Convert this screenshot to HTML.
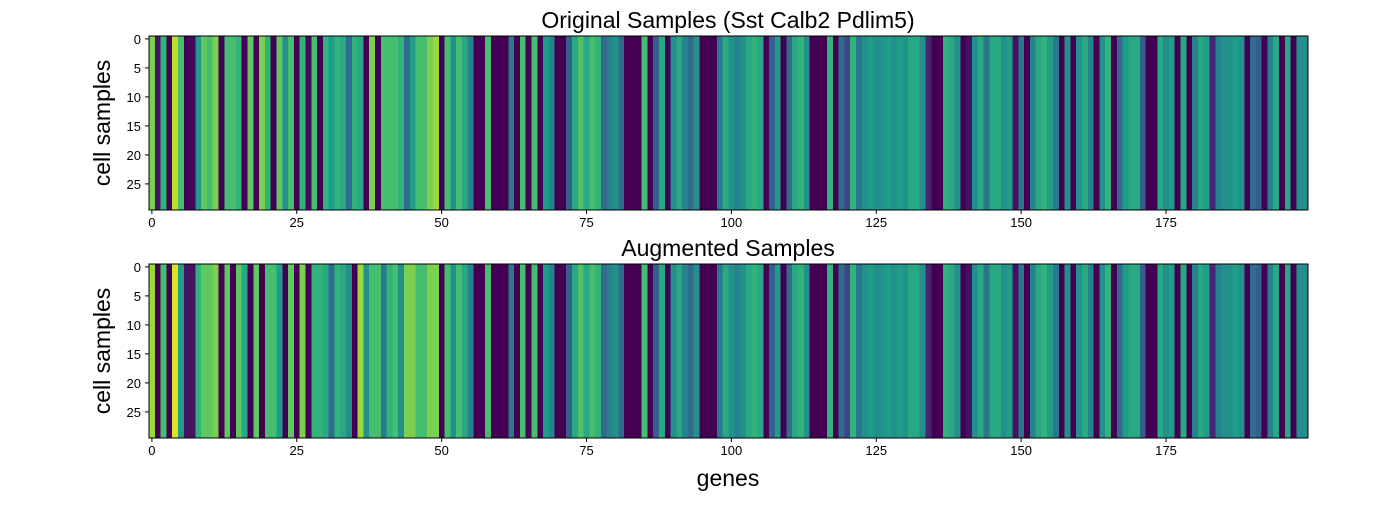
<!DOCTYPE html>
<html><head><meta charset="utf-8"><style>
body{margin:0;background:#fff;}
svg text{font-family:"Liberation Sans",sans-serif;fill:#000;}
</style></head><body>
<svg id="chart" width="1400" height="500" xmlns="http://www.w3.org/2000/svg"></svg>
<script>
const nRows = 30;
const genes = Array.from({length:200},(_, i)=>i);
const xTickLabels = [0,25,50,75,100,125,150,175];
const yTickLabels = [0,5,10,15,20,25];
const originalMeans = [
0.8,0.05,0.65,0,0.9,0.7,0,0.02,0.55,0.75, 0.7,0.8,0,0.7,0.7,0.65,0,0.75,0,0.8,
0.65,0,0.75,0.5,0.7,0,0.65,0.02,0.7,0, 0.65,0.55,0.65,0.6,0.35,0.65,0.6,0,0.8,0,
0.7,0.7,0.7,0.65,0.35,0.55,0.7,0.7,0.8,0.85,
0,0.7,0.5,0.7,0.6,0.45,0,0,0.7,0, 0,0,0.4,0,0.7,0,0.7,0,0.55,0.45,
0,0,0.3,0.6,0.72,0.6,0.7,0.65,0.35,0.45, 0.5,0.35,0,0,0,0.7,0,0.3,0.6,0,
0.5,0.6,0.45,0.35,0.5,0,0,0,0.4,0.6,
0.5,0.45,0.5,0.6,0.65,0.6,0,0.3,0.55,0, 0.35,0.6,0.65,0.5,0,0,0,0.65,0,0.35,
0.2,0.65,0.4,0.5,0.55,0.5,0.52,0.55,0.5,0.55, 0.52,0.6,0.6,0.5,0.1,0,0,0.65,0.6,0.5,
0,0.05,0.5,0.6,0.4,0.6,0.6,0.5,0.55,0.05,
0.4,0,0.45,0.6,0.65,0.55,0.4,0,0.5,0, 0.5,0.6,0.45,0,0.5,0.65,0,0.35,0.55,0.6,
0.6,0.3,0,0,0.6,0.5,0.55,0,0.6,0, 0.45,0.6,0.55,0.1,0.45,0.5,0.5,0.55,0.5,0,
0.35,0.3,0,0.45,0.6,0,0.6,0,0.5,0.5
];
const augmentedMeans = [
0.85,0,0.7,0,0.95,0.55,0.05,0.05,0.65,0.75, 0.75,0.8,0,0.75,0,0.75,0.6,0,0.75,0,
0.7,0.7,0.55,0,0.75,0,0.8,0,0.65,0.65, 0.6,0.35,0.65,0.6,0.5,0,0.85,0.5,0.7,0.7,
0.4,0.65,0.7,0.5,0.8,0.8,0.7,0.7,0.8,0.8,
0,0.7,0.5,0.7,0.6,0.45,0,0,0.7,0, 0,0,0.4,0,0.7,0,0.7,0,0.55,0.45,
0,0,0.3,0.6,0.72,0.6,0.7,0.65,0.35,0.45, 0.5,0.35,0,0,0,0.7,0,0.3,0.6,0,
0.5,0.6,0.45,0.35,0.5,0,0,0,0.4,0.6,
0.5,0.45,0.5,0.6,0.65,0.6,0,0.3,0.55,0, 0.35,0.6,0.65,0.5,0,0,0,0.65,0,0.35,
0.2,0.65,0.4,0.5,0.55,0.5,0.52,0.55,0.5,0.55, 0.52,0.6,0.6,0.5,0.1,0,0,0.65,0.6,0.5,
0,0.05,0.5,0.6,0.4,0.6,0.6,0.5,0.55,0.05,
0.4,0,0.45,0.6,0.65,0.55,0.4,0,0.5,0, 0.5,0.6,0.45,0,0.5,0.65,0,0.35,0.55,0.6,
0.6,0.3,0,0,0.6,0.5,0.55,0,0.6,0, 0.45,0.6,0.55,0.1,0.45,0.5,0.5,0.55,0.5,0,
0.35,0.3,0,0.45,0.6,0,0.6,0,0.5,0.5
];

const NS='http://www.w3.org/2000/svg';
const svg=document.getElementById('chart');
const vir=[[68,1,84],[72,40,120],[62,74,137],[49,104,142],[38,130,142],[31,158,137],[53,183,121],[109,205,89],[180,222,44],[253,231,37]];
function viridis(t){t=Math.max(0,Math.min(1,t));const p=t*9,i=Math.min(8,Math.floor(p)),f=p-i;
 const c=vir[i].map((v,k)=>Math.round(v+(vir[i+1][k]-v)*f));return `rgb(${c[0]},${c[1]},${c[2]})`;}
function el(tag,attrs,parent){const e=document.createElementNS(NS,tag);for(const k in attrs)e.setAttribute(k,attrs[k]);(parent||svg).appendChild(e);return e;}
const X0=149,X1=1308,W=X1-X0,cw=W/genes.length;
function xScale(g){return X0+g*cw;}
function panel(top,means,title,name){
 const H=174,rh=H/nRows;
 const yScale=r=>top+r*rh;
 const g=el('g',{});
 
 
 genes.forEach((gi)=>{
  const c=el('rect',{x:xScale(gi),y:top,width:cw+0.4,height:H,fill:viridis(means[gi]),'shape-rendering':'crispEdges'},g);
  
  
 });
 const fr=el('rect',{x:X0,y:top,width:W,height:H,fill:'none',stroke:'#000','stroke-width':1});
 
 
 yTickLabels.forEach(v=>{const y=yScale(v+0.5);
  el('line',{x1:X0-4,x2:X0,y1:y,y2:y,stroke:'#000'});
  const t=el('text',{x:X0-8,y:y+5,'text-anchor':'end','font-size':13});t.textContent=v;
  
  });
 xTickLabels.forEach(v=>{const x=xScale(v+0.5)-cw*0.5+cw*0.5;
  el('line',{x1:x,x2:x,y1:top+H,y2:top+H+4,stroke:'#000'});
  const t=el('text',{x:x,y:top+H+17,'text-anchor':'middle','font-size':13});t.textContent=v;
  
  });
 const tt=el('text',{x:728,y:top-8,'text-anchor':'middle','font-size':23});tt.textContent=title;
 
 
 const yl=el('text',{x:0,y:0,'text-anchor':'middle','font-size':23,transform:`translate(110,${top+H/2}) rotate(-90)`});yl.textContent='cell samples';
 
 
}
panel(36,originalMeans,'Original Samples (Sst Calb2 Pdlim5)','original-heatmap');
panel(264,augmentedMeans,'Augmented Samples','augmented-heatmap');
const xl=el('text',{x:728,y:486,'text-anchor':'middle','font-size':23});xl.textContent='genes';


</script>
</body></html>
